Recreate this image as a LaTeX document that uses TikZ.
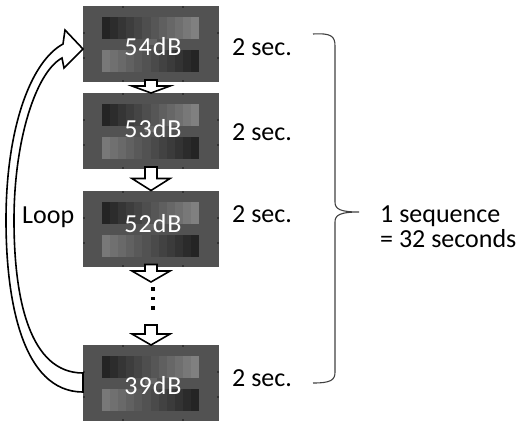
\documentclass[tikz,border=0pt]{standalone}
\usepackage{fontspec}
\setmainfont{Carlito}
\usetikzlibrary{calc}
\colorlet{boxgray}{white!32!black}
\colorlet{tickgray}{white!20!black}
\colorlet{bracegray}{white!25!black}
\tikzset{
  imgbox/.style={draw=none, fill=boxgray, minimum width=136, minimum height=76,
    inner sep=0, outer sep=0,
    path picture={
      \coordinate (nw) at (path picture bounding box.north west);
      % two grey-scale strips: dark to light on top, light to dark below
      \foreach \i in {0,...,11}{
        \pgfmathsetmacro\lt{14+3.3*\i}
        \pgfmathsetmacro\lb{47-3*\i}
        \fill[white!\lt!black] ($(nw)+(19+8.083*\i,11)$) rectangle ++(8.3,22);
        \fill[white!\lb!black] ($(nw)+(19+8.083*\i,44)$) rectangle ++(8.3,22);
      }
      \fill[white!40!black] ($(nw)+(62,33)$) rectangle ++(12,6);
      % axis ticks on the frame
      \foreach \tx in {39,99}{
        \fill[tickgray] ($(nw)+(\tx,0)$) rectangle ++(2,2);
        \fill[tickgray] ($(nw)+(\tx,74)$) rectangle ++(2,2);
      }
      \foreach \ty in {26,51}{
        \fill[tickgray] ($(nw)+(0,\ty)$) rectangle ++(2,2);
        \fill[tickgray] ($(nw)+(134,\ty)$) rectangle ++(2,2);
      }
    }},
  boxtext/.style={text=white, inner sep=0, anchor=base,
    font=\fontsize{26}{30}\selectfont\addfontfeature{LetterSpace=4}},
  lbl/.style={text=black, inner sep=0, anchor=base west,
    font=\fontsize{26}{31}\selectfont},
  hollow/.style={draw=black, fill=white, line width=1.6pt, line join=miter},
  bracestyle/.style={draw=bracegray, line width=1.1pt},
  dotmark/.style={fill=black, minimum size=3.5, inner sep=0, draw=none}
}
% block arrow pointing down from #1 to #2 with head length #3
\newcommand\hollowdown[3]{%
  \draw[hollow] ($(#1)+(-6,-2)$) -- ($(#2)+(-6,-#3)$) -- ($(#2)+(-19,-#3)$)
    -- (#2) -- ($(#2)+(19,-#3)$) -- ($(#2)+(6,-#3)$) -- ($(#1)+(6,-2)$) -- cycle;}
\begin{document}
\begin{tikzpicture}[x=1pt, y=-1pt]
  \useasboundingbox (0,0) rectangle (532,421);

  % stimulus frames
  \node[imgbox] (b1) at (151,44) {};
  \node[imgbox] (b2) at (151,131) {};
  \node[imgbox] (b3) at (151,228.5) {};
  \node[imgbox] (b4) at (151,383) {};

  \node[boxtext] (t1) at (153,55) {54dB};
  \node[boxtext] (t2) at (153,137) {53dB};
  \node[boxtext] (t3) at (153,232) {52dB};
  \node[boxtext] (t4) at (153,394) {39dB};

  % arrows between frames
  \coordinate (c3) at (151,282);
  \coordinate (c4) at (151,327);
  \hollowdown{b1.south}{b2.north}{7}
  \hollowdown{b2.south}{b3.north}{12}
  \hollowdown{b3.south}{c3}{11}
  \hollowdown{c4}{b4.north}{11}

  % ellipsis
  \node[dotmark] (d1) at (153,289) {};
  \node[dotmark] (d2) at (153,298.5) {};
  \node[dotmark] (d3) at (153,308) {};

  % curved loop arrow from the last frame back to the first
  \draw[hollow] ($(b4.west)+(0,9)$) .. controls (22,392) and (6,300) .. (6,220)
    .. controls (6,130) and (30,62) .. (63,44) -- (65,30)
    -- ($(b1.west)+(0,5)$) -- (64,68) -- (62,58)
    .. controls (36,72) and (14,140) .. (14,220)
    .. controls (14,300) and (30,373) .. ($(b4.west)+(0,-10)$) -- cycle;
  \node[lbl] (loop) at (22,223) {Loop};

  % durations
  \node[lbl] (s1) at (232,55) {2 sec.};
  \node[lbl] (s2) at (232,140) {2 sec.};
  \node[lbl] (s3) at (232,222) {2 sec.};
  \node[lbl] (s4) at (232,386) {2 sec.};

  % brace grouping the sequence
  \coordinate (bt) at (359,212);
  \draw[bracestyle] (313,34) .. controls (331,33) and (335,36) .. (335,46)
    -- (335,202) .. controls (335,209) and (340,212) .. (bt)
    .. controls (340,212) and (335,215) .. (335,222)
    -- (335,372) .. controls (335,380) and (331,383) .. (313,383);
  \node[lbl] (q1) at (380,222) {1 sequence};
  \node[lbl] (q2) at (380,247) {= 32 seconds};
\end{tikzpicture}
\end{document}
